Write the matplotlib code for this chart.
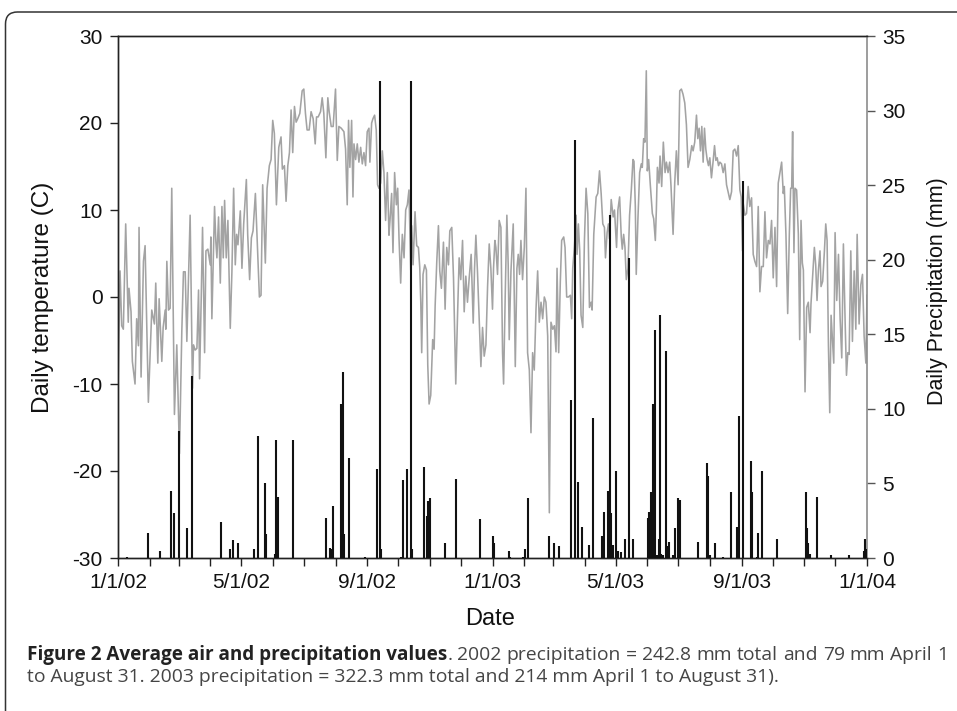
import numpy as np
import matplotlib
matplotlib.use('Agg')
import matplotlib.pyplot as plt
from matplotlib.patches import FancyBboxPatch

# ---------------- data ----------------
# day offset from 2002-01-01, daily air temperature (C)
temp_day = [0, 2, 3.6, 5.2, 7.5, 10, 10.7, 12.7, 14, 16.6, 18.2, 19.9, 20.5, 22.5, 24.8, 26.4, 29.6, 32.9, 35.5, 36.8,
            38.8, 40.1, 42.7, 44, 46, 46.6, 47.6, 49.2, 50.8, 52.4, 55, 57.3, 59.9, 62.2, 63.8, 65.5, 67.1, 70.3, 72.6, 73.6,
            75.2, 76.9, 78.5, 79.5, 81.1, 82.4, 84.4, 85.7, 87.6, 89.9, 90.5, 91.5, 94.1, 95.4, 96.4, 98, 99.7, 101.3, 102.6, 103.9,
            105.5, 107.1, 109.4, 111, 112.7, 114.3, 115.6, 116.9, 119.2,
            120.8, 122.5, 125.1, 126.4, 128.3, 130, 131.6, 133.9, 136.1, 137.8, 139.4, 141, 143.6, 145.3, 147.5, 149.2, 150.8, 152.4,
            154.4, 156.7, 158.9, 160.2, 162.2, 163.8, 165.5, 167.1, 168.7, 170.3, 172, 173.6, 175.2, 177.2, 179.5, 181.1, 182.7,
            184.3, 186.3, 188.2, 190.2, 192.2, 193.5, 195.1, 197.4, 199, 200.6, 202.6, 204.5, 205.8, 207.8, 209.7, 212, 213.7,
            215.3, 217.6, 220.2, 221.8, 223.4, 224.7, 226, 227.7, 229, 230, 231.6, 233.2, 234.8, 236.5, 238.1, 239.7, 241.3,
            242.9, 244.6, 245.5, 247.2, 248.5, 250.1, 251.7, 253, 254.3, 256, 257.6, 259.2, 260.8, 262.5, 264.1, 265.1, 266.7,
            268, 269.6, 271.3, 272.6, 273.9, 275.5, 277.1, 278.8, 280.4, 282, 283.6, 285.3, 286.2, 287.6, 289.5, 291.1, 292.8,
            294.1, 295.1, 296, 297.3, 299, 300.6, 301.9, 303.2, 304.8, 306.7, 308.1, 309.1, 310.7, 312.3, 313.6, 315.2, 317.2,
            318.8, 320.4, 322.1, 323.4, 325.3, 327, 329.2, 330.9, 332.5, 334.1, 335.8, 337.4, 339, 340.6, 342.3, 344.2, 346.2,
            347.5, 348.8, 350.4, 352, 353.7, 355.3, 356.9, 358.6, 360.2, 361.8, 363.4,
            365, 366, 367.3, 368.3, 369.9, 371.5, 373.2, 374.8, 375.8, 377.4, 379, 380.3, 381.3, 383, 385.2, 387.2, 388.8, 390.1,
            391.4, 392.7, 394.3, 396, 397.6, 399.2, 400.9, 402.5, 404.1, 405.7, 407.4, 409, 410.6, 412.3, 413.9, 415.5, 417.1,
            418.8, 420.4, 422, 423.7, 425.3, 426.9, 427.9, 429.5, 431.1, 432.4, 434.4, 435.7, 437.3, 439, 440.9, 442.2, 443.2,
            444.8, 446.5, 447.4, 448.7, 450, 451.3, 453, 454.6, 456.2, 457.9, 459.5, 461.1, 462.1, 463.7, 466, 467.6, 469.3,
            470.9, 472.5, 474.1, 475.1, 476.7, 478, 479, 480.7, 482.6, 483.9, 485.9,
            487.2, 488.9, 490.5, 491.5, 492.8, 494.1, 495.4, 497, 498.6, 500.3, 501.9, 502.9, 504.2, 505.1, 506.8, 508.4, 510,
            511, 512.3, 513.6, 514.9, 515.9, 517.2, 518.8, 520.8, 522.1, 523.7, 524.7, 525.7, 527.3, 528.3, 529.9, 531.5, 533.2,
            534.5, 536.1, 537.7, 539, 541, 542.6, 544.2, 545.9, 547.5, 549.1, 550.7, 552.4, 554, 555.6, 557.3, 559.2, 560.5,
            562.1, 563.8, 565.1, 566.4, 567.7, 569, 570.3, 571.6, 572.9, 574.2, 575.5, 576.8, 578.4, 580.1, 581.4, 582.7, 584,
            585.3, 586.6, 588.2, 589.8, 591.5, 593.1, 595, 596.3, 598, 599.6, 601.2, 602.9, 604.5, 606.1, 607.4, 608.7,
            609.3, 611, 612.6, 614.2, 615.8, 617.5, 619.1, 620.7, 622.4, 624, 625.6, 627.2, 628.9, 630.5, 632.1, 633.8, 635.4,
            637, 638.6, 640.3, 641.9, 643.5, 645.2, 646.8, 648.4, 649.4, 651, 652.7, 654.3, 655.6, 656.6, 657.5, 658.8, 659.8,
            661.4, 663.1, 664.4, 665.7, 667, 668, 669.6, 671.2, 672.8, 674.5, 675.4, 677.1, 678.7, 680, 681.3, 682.6, 684.2,
            685.2, 686.8, 688.5, 689.8, 691.1, 692.4, 693.7, 695, 696.3, 697.6, 698.9, 700.5, 702.2, 703.8, 705.4, 707, 708.7,
            710, 711.3, 712.6, 714.2, 715.8, 717.5, 719.1, 720.4, 722.3, 724, 725.6, 727.2, 728.9, 730]
temp_c = [-10.9, 3.0, -3.3, -3.7, 8.4, -2.9, 1.0, -1.7, -7.4, -10, -2.5, -5.6, 8.0, -9.2, 4.1, 5.9, -12.1, -1.5, -3.1, 1.6,
          -7.6, -0.2, -7.4, -3.5, -1.5, -3.7, 4.1, -1.5, -1.3, 12.5, -13.5, -5.5, -18, -3.9, 2.9, 2.9, -5.1, 9.4, -10.5, -5.5,
          -6.1, -5.9, 0.8, -9.4, -0.2, 8.0, -6.4, 5.3, 5.5, 3.7, 6.9, -2.5, 10.4, 6.3, 4.5, 9.2, 1.6, 10.4, 4.5, 11.1,
          4.5, 8.8, -3.6, 2.8, 12.5, 3.7, 7.2, 6.0, 9.9,
          3.3, 8.4, 13.5, 7.2, 2.0, 6.8, 7.6, 11.9, 5.3, 0.0, 0.2, 12.9, 3.9, 12.5, 15.1, 15.8, 20.3, 18.8,
          10.6, 17.2, 18.4, 14.7, 15.1, 11.0, 15.1, 16.6, 21.5, 16.6, 21.9, 20.1, 20.5, 21.1, 23.7, 23.9, 21.1,
          19.2, 19.2, 21.3, 20.5, 17.6, 20.7, 20.7, 21.3, 22.9, 21.1, 16.0, 22.9, 21.3, 19.6, 19.6, 23.9, 15.7,
          19.6, 19.4, 19.0, 17.0, 10.6, 20.3, 14.9, 20.3, 11.5, 17.6, 15.8, 17.6, 15.5, 17.2, 15.3, 16.6, 15.1,
          19.0, 19.4, 15.5, 20.0, 20.5, 20.9, 19.2, 12.9, 12.5, 13.1, 16.8, 14.3, 8.8, 14.3, 7.1, 8.8, 11.9,
          5.1, 14.3, 10.6, 12.5, 6.7, 1.6, 7.2, 4.5, 10.0, 10.6, 12.3, 3.1, 8.2, 3.7, 9.8, 5.9, 5.7,
          3.4, -0.6, -6.4, 2.6, 3.7, 3.1, -7.8, -12.3, -11.3, -4.9, -6.0, -1.0, 4.1, 8.2, 3.0, 1.0, 6.3,
          -1.4, 5.7, 3.7, 7.6, 8.0, 2.2, -10.0, -2.2, 4.5, 2.0, 6.5, -1.7, 2.4, -0.6, 2.2, 4.9, -3.0,
          3.3, 7.1, 2.8, -2.5, -8.0, -3.5, -6.8, -5.5, 1.2, 6.1, 3.3,
          -1.4, 3.3, 6.5, 5.7, 2.6, 8.8, 8.0, -6.4, -10.0, 0.2, 9.4, 3.7, -4.9, 3.0, 8.4, -8.0, 3.3, 4.9,
          2.6, 6.5, 2.0, 5.7, 12.5, -6.4, -8.4, -15.6, -6.4, -8.4, -1.4, 3.0, -2.9, -0.6, -2.5, 0.0, -0.6,
          -4.5, -24.8, -2.9, -3.7, -3.3, -6.3, 3.3, -6.4, 1.8, 6.5, 6.9, 5.7, 0.0, 0.0, 0.2, -2.5, 3.3,
          5.7, 9.4, 4.9, 8.4, 5.3, -2.1, -3.5, 6.5, 12.5, 9.6, -1.2, -0.6, -1.5, 7.2, 11.5, 11.9, 14.5,
          11.9, 8.4, 8.0, 4.5, 7.4, 8.4, 6.7, 11.2, 9.2, 10.0, 5.7,
          10.0, 11.5, 6.9, 5.5, 7.2, 5.7, 2.0, 3.3, 9.4, 12.3, 15.8, 15.6, 10.4, 2.6, 9.2, 14.3, 15.3,
          14.9, 18.2, 17.8, 26.0, 14.5, 15.8, 12.9, 9.6, 9.0, 6.5, 10.0, 14.9, 13.1, 16.2, 12.7, 17.8, 14.3,
          15.5, 14.3, 15.5, 12.7, 7.2, 13.1, 16.8, 12.9, 23.7, 23.9, 23.3, 22.3, 19.8, 14.9, 15.8, 17.4, 16.8,
          17.8, 20.9, 18.2, 19.4, 16.8, 19.6, 15.5, 19.4, 17.0, 15.8, 15.1, 16.0, 13.7, 15.7, 17.4, 15.7, 16.0,
          15.1, 15.5, 15.3, 14.3, 15.3, 12.9, 11.9, 11.2, 12.1, 16.8, 17.0, 16.2, 17.4, 12.3, 11.5, 5.3,
          10.8, 9.4, 9.6, 12.7, 10.4, 11.4, 4.9, 4.1, 3.5, 10.4, 0.6, 3.5, 3.5, 9.8, 4.5, 6.5, 6.1,
          8.8, 2.2, 8.0, 1.2, 13.1, 14.3, 15.5, 11.9, 12.7, 7.2, -1.9, 7.2, 12.5, 12.5, 19.0, 5.1, 12.5,
          12.3, 7.2, -4.9, 8.8, 3.9, 3.1, -10.9, -1.2, -0.6, -4.1, -0.8, 2.6, 5.7, 3.7, -0.4, 3.0, 5.3,
          1.2, 1.8, 5.3, 8.4, 6.5, -5.5, -13.3, -2.1, -4.9, -7.6, 7.4, -0.4, 4.9, -2.5, -7.0, 6.1, -2.9,
          -9.0, -6.4, -6.6, 5.3, -5.1, 3.0, -3.7, 7.2, -3.1, 1.4, 2.6, -4.5, -7.6, 0.2]

# day offset from 2002-01-01, daily precipitation (mm)
precip_day = [8.5, 29, 41, 51.5, 55, 59, 67, 72.6, 100.6, 109.4, 111.7, 117,
              132.9, 136.5, 143.6, 144.6, 152.7, 154.4, 155.7, 170.7, 203.2, 206.5, 207.8, 209.7, 217.6, 218.9, 220.2,
              225.1, 240.4, 252.1, 255, 256, 276.2, 278.1, 282, 285.3, 286.2, 298.3, 300.9, 302.5, 304.2, 318.5, 329.2,
              352.7,
              365, 366.6, 380.7, 382, 395, 396.6, 399.2, 420.4, 424.6, 429.5, 441.6, 445.5, 448.1, 452, 459.5,
              462.7, 471.9, 473.5, 478, 479.3, 480.7, 482.6, 485.5, 487.8, 490.5, 493.7, 498, 501.9, 516.5, 517.5, 519.8,
              521.4, 522.4, 523.7, 525.3, 527, 527.9, 529.6, 531.2, 533.8, 536.1, 537.1, 541, 542.6, 545.9, 547.5, 565.4,
              574.2, 575.5, 576.8, 582.3, 589.2, 597.3, 603.5, 605.1, 608.7, 616.8, 618.1, 622.4, 624, 627.2, 642.5,
              670.2, 671.5, 672.8, 674.5, 681.3, 694.7, 712.6, 727.2, 728.2, 729.8]
precip_mm = [0.1, 1.7, 0.5, 4.5, 3.0, 8.5, 2.0, 12.2, 2.4, 0.6, 1.2, 1.0,
             0.6, 8.2, 5.0, 1.6, 0.3, 7.9, 4.1, 7.9, 2.7, 0.7, 0.6, 3.5, 10.3, 12.5, 1.6,
             6.7, 0.1, 6.0, 32.0, 0.6, 0.1, 5.2, 6.0, 32.0, 0.6, 6.1, 2.8, 3.8, 4.0, 1.0, 5.3,
             2.6,
             1.5, 1.0, 0.5, 0.1, 0.1, 0.6, 4.0, 1.5, 1.0, 0.8, 10.6, 28.0, 5.1, 2.1, 0.9,
             9.4, 1.5, 3.1, 4.5, 23.0, 3.0, 0.9, 5.8, 0.5, 0.4, 1.3, 20.1, 1.3, 2.7, 3.1, 4.4,
             10.3, 0.5, 15.3, 0.2, 1.3, 16.3, 0.3, 0.2, 13.9, 0.8, 1.1, 0.2, 2.0, 4.0, 3.9, 1.1,
             6.4, 5.5, 0.2, 1.0, 0.1, 4.4, 2.1, 9.5, 25.3, 6.5, 4.4, 0.1, 1.7, 5.8, 1.3,
             4.4, 2.0, 1.0, 0.3, 4.1, 0.2, 0.2, 0.5, 1.3, 0.6]

date_labels = ['1/1/02', '5/1/02', '9/1/02', '1/1/03', '5/1/03', '9/1/03', '1/1/04']
temp_ticks = [-30, -20, -10, 0, 10, 20, 30]
precip_ticks = [0, 5, 10, 15, 20, 25, 30, 35]

caption_bold = "Figure 2 Average air and precipitation values"
caption_rest1 = ". 2002 precipitation = 242.8 mm total and 79 mm April 1"
caption_line2 = "to August 31. 2003 precipitation = 322.3 mm total and 214 mm April 1 to August 31)."

# ---------------- figure ----------------
W, H = 957, 711
plt.rcParams['font.family'] = ['Liberation Sans', 'DejaVu Sans']
fig = plt.figure(figsize=(W / 100, H / 100), dpi=100)

def fx(px):
    return px / W

def fy(py):
    return 1 - py / H

ax = fig.add_axes([fx(118), fy(558), fx(867) - fx(118), fy(36) - fy(558)])
ax2 = ax.twinx()

ax.plot(temp_day, temp_c, color='#a3a3a3', lw=1.15, zorder=2)
ax2.vlines(precip_day, 0, precip_mm, color='#111111', lw=1.5, zorder=3)

month_starts = np.arange(np.datetime64('2002-01'), np.datetime64('2004-02'), dtype='datetime64[M]')
month_days = (month_starts.astype('datetime64[D]') - np.datetime64('2002-01-01')).astype(int)

ax.set_xlim(0, month_days[-1])
ax.set_ylim(-30, 30)
ax2.set_ylim(0, 35)

ax.set_xticks(month_days)
ax.set_xticklabels([date_labels[i // 4] if i % 4 == 0 else '' for i in range(len(month_days))])
ax.set_yticks(temp_ticks)
ax.set_yticklabels([str(v) for v in temp_ticks])
ax2.set_yticks(precip_ticks)
ax2.set_yticklabels([str(v) for v in precip_ticks])

for a in (ax, ax2):
    for s in a.spines.values():
        s.set_linewidth(1.0)
        s.set_color('#222222')
ax2.spines['right'].set_color('#8c8c8c')
ax2.spines['right'].set_linewidth(1.2)
ax.spines['right'].set_visible(False)

ax.tick_params(axis='x', direction='out', length=6, width=1.0, color='#222222',
               labelsize=15, pad=5, labelcolor='#111111')
ax.tick_params(axis='y', direction='out', length=6, width=1.0, color='#222222',
               labelsize=15, pad=5, labelcolor='#111111')
ax2.tick_params(axis='y', direction='out', length=6, width=1.0, color='#555555',
                labelsize=15, pad=5, labelcolor='#111111')

fig.text(fx(43), fy(297), 'Daily temperature (C)', rotation=90, ha='center', va='center',
         fontsize=17.5, color='#111111')
fig.text(fx(938), fy(291), 'Daily Precipitation (mm)', rotation=90, ha='center', va='center',
         fontsize=15.5, color='#111111')
fig.text(fx(490), fy(619), 'Date', ha='center', va='center', fontsize=17, color='#111111')

# rounded frame around the figure (open to the right / bottom)
frame = FancyBboxPatch((0.055, -1.0), 20, 6.99 + 1.0, boxstyle='round,pad=0,rounding_size=0.12',
                       transform=fig.dpi_scale_trans, fill=False, lw=1.1, ec='#333333')
fig.patches.append(frame)

# ---------------- caption (justified first line) ----------------
cap_fam = ['Open Sans', 'Liberation Sans', 'DejaVu Sans']
fig.canvas.draw()
r = fig.canvas.get_renderer()

def width_of(s, bold, fs):
    t = fig.text(0, 0, s, family=cap_fam, fontsize=fs, fontweight='bold' if bold else 'normal')
    w = t.get_window_extent(r).width
    t.remove()
    return w

left, bold_end, right = 27.0, 447.0, 948.0
fs0 = 10.0
bold_fs = fs0 * (bold_end - left) / width_of(caption_bold, True, fs0)
reg_fs = fs0 * (right - bold_end) / width_of(caption_rest1, False, fs0)

bold_col, text_col = '#222222', '#454545'
y1, y2 = fy(660), fy(682)

# line 1: bold title as one piece, then the regular words spread to the right margin
tokens = [(caption_bold, True, False)]
rest_words = caption_rest1.split(' ')
tokens.append((rest_words[0], False, False))
tokens += [(w, False, True) for w in rest_words[1:]]

widths = [width_of(t, b, bold_fs if b else reg_fs) for t, b, _ in tokens]
n_gaps = sum(1 for _, _, s in tokens if s)
gap = (right - left - sum(widths)) / n_gaps
x = left
for (t, b, s), w in zip(tokens, widths):
    if s:
        x += gap
    fig.text(x / W, y1, t, family=cap_fam, fontsize=bold_fs if b else reg_fs,
             fontweight='bold' if b else 'normal', va='baseline', ha='left',
             color=bold_col if b else text_col)
    x += w

fig.text(left / W, y2, caption_line2, family=cap_fam, fontsize=reg_fs,
         va='baseline', ha='left', color=text_col)

fig.savefig('out.png', dpi=100)
